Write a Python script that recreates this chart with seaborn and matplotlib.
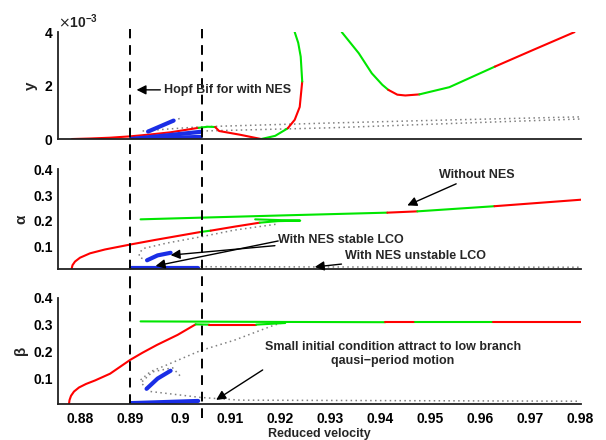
import matplotlib
matplotlib.use("Agg")
import matplotlib.pyplot as plt
import seaborn as sns
from matplotlib.ticker import ScalarFormatter

# ---------------- data ----------------
hopf_x = [0.89, 0.9043]

# top panel (y, in units of 1e-3)
top_red_a_x = [0.8784, 0.882, 0.886, 0.89, 0.894, 0.898, 0.9037]
top_red_a_y = [0.0, 0.02, 0.05, 0.1, 0.17, 0.25, 0.42]
top_green_a_x = [0.9037, 0.9055, 0.907]
top_green_a_y = [0.42, 0.46, 0.45]
top_red_b_x = [0.907, 0.9078, 0.912, 0.9162]
top_red_b_y = [0.45, 0.3, 0.16, 0.0]
top_green_b_x = [0.9162, 0.919, 0.9215]
top_green_b_y = [0.0, 0.12, 0.4]
top_red_c_x = [0.9215, 0.9229, 0.9239, 0.9244]
top_red_c_y = [0.4, 0.72, 1.2, 2.15]
top_green_c_x = [0.9244, 0.9241, 0.9236, 0.9229]
top_green_c_y = [2.15, 3.08, 3.6, 4.0]
top_green_d_x = [0.9323, 0.9357, 0.9383, 0.9404, 0.9416]
top_green_d_y = [4.0, 3.21, 2.46, 2.03, 1.84]
top_red_d_x = [0.9416, 0.9434, 0.945, 0.9478]
top_red_d_y = [1.84, 1.66, 1.63, 1.67]
top_green_e_x = [0.9478, 0.9538, 0.9629]
top_green_e_y = [1.67, 1.94, 2.71]
top_red_e_x = [0.9629, 0.9705, 0.9788]
top_red_e_y = [2.71, 3.33, 4.0]
top_blue_low_x = [0.8902, 0.9041]
top_blue_low_y = [0.0, 0.27]
top_blue_low2_y = [0.0, 0.08]
top_blue_up_x = [0.8936, 0.8987]
top_blue_up_y = [0.28, 0.69]
top_dot_a_x = [0.8987, 0.9001]
top_dot_a_y = [0.69, 0.78]
top_dot_b_x = [0.8925, 0.898, 0.9043, 0.93, 0.955, 0.98]
top_dot_b_y = [0.3, 0.38, 0.46, 0.6, 0.72, 0.83]
top_dot_c_x = [0.9043, 0.93, 0.96, 0.98]
top_dot_c_y = [0.3, 0.42, 0.62, 0.75]

# middle panel (alpha)
mid_red_a_x = [0.8783, 0.8785, 0.879, 0.88, 0.882, 0.885, 0.89, 0.895, 0.9, 0.9041]
mid_red_a_y = [0.012, 0.028, 0.042, 0.057, 0.074, 0.089, 0.108, 0.126, 0.143, 0.157]
mid_green_a_x = [0.9041, 0.9061]
mid_green_a_y = [0.157, 0.162]
mid_red_b_x = [0.9061, 0.911, 0.9159]
mid_red_b_y = [0.162, 0.178, 0.193]
mid_green_b_x = [0.9159, 0.9195, 0.924, 0.92, 0.915]
mid_green_b_y = [0.193, 0.199, 0.201, 0.203, 0.206]
mid_green_c_x = [0.8921, 0.905, 0.92, 0.9414]
mid_green_c_y = [0.206, 0.213, 0.221, 0.232]
mid_red_c_x = [0.9414, 0.9474]
mid_red_c_y = [0.232, 0.237]
mid_green_d_x = [0.9474, 0.9628]
mid_green_d_y = [0.237, 0.257]
mid_red_d_x = [0.9628, 0.9806]
mid_red_d_y = [0.257, 0.283]
mid_blue_up_x = [0.8934, 0.8955, 0.8981]
mid_blue_up_y = [0.047, 0.066, 0.076]
mid_blue_low_x = [0.8902, 0.9036]
mid_blue_low_y = [0.016, 0.016]
mid_dot_a_x = [0.8934, 0.8919, 0.8918, 0.8927, 0.8974, 0.9041, 0.9108, 0.9192]
mid_dot_a_y = [0.047, 0.058, 0.075, 0.093, 0.114, 0.138, 0.164, 0.187]
mid_dot_b_x = [0.9041, 0.93, 0.98]
mid_dot_b_y = [0.022, 0.021, 0.02]

# bottom panel (beta)
bot_red_a_x = [0.8778, 0.8779, 0.8782, 0.8788, 0.8798, 0.8812, 0.883, 0.886, 0.89,
               0.8925, 0.8954, 0.8995, 0.9031]
bot_red_a_y = [0.006, 0.02, 0.036, 0.052, 0.067, 0.08, 0.093, 0.118, 0.169,
               0.196, 0.225, 0.262, 0.301]
bot_green_a_x = [0.9031, 0.9058]
bot_green_a_y = [0.301, 0.300]
bot_red_b_x = [0.9058, 0.9152]
bot_red_b_y = [0.300, 0.300]
bot_green_b_x = [0.9152, 0.921]
bot_green_b_y = [0.300, 0.306]
bot_green_c_x = [0.8921, 0.92, 0.941]
bot_green_c_y = [0.312, 0.310, 0.309]
bot_red_c_x = [0.941, 0.947]
bot_red_c_y = [0.309, 0.309]
bot_green_d_x = [0.947, 0.9625]
bot_green_d_y = [0.309, 0.309]
bot_red_d_x = [0.9625, 0.9806]
bot_red_d_y = [0.309, 0.309]
bot_blue_up_x = [0.8933, 0.8955, 0.8981]
bot_blue_up_y = [0.062, 0.1, 0.129]
bot_blue_low_x = [0.8902, 0.897, 0.9036]
bot_blue_low_y = [0.009, 0.013, 0.017]
bot_dot_a_x = [0.8921, 0.8941, 0.8974, 0.9041, 0.9108, 0.9189, 0.9202]
bot_dot_a_y = [0.095, 0.126, 0.151, 0.204, 0.242, 0.299, 0.305]
bot_dot_b_x = [0.8933, 0.8922, 0.8945, 0.8985, 0.9]
bot_dot_b_y = [0.062, 0.085, 0.125, 0.14, 0.11]
bot_dot_c_x = [0.8941, 0.9041, 0.912, 0.98]
bot_dot_c_y = [0.052, 0.03, 0.02, 0.016]

RED = "#ff0000"
GREEN = "#00e600"
BLUE = "#1a2ee6"
GREY = "#808080"

sns.set_style("white")
plt.rcParams["font.family"] = ["Liberation Sans", "DejaVu Sans"]


def draw(ax, x, y, color, lw=1.5, ls="-", scale=1.0):
    sns.lineplot(x=x, y=[v * scale for v in y], ax=ax, color=color, lw=lw,
                 linestyle=ls, sort=False, estimator=None)


fig = plt.figure(figsize=(6.06, 4.40), dpi=100)
ax_top = fig.add_axes([0.0957, 0.684, 0.863, 0.243])
ax_mid = fig.add_axes([0.0957, 0.388, 0.863, 0.227])
ax_bot = fig.add_axes([0.0957, 0.082, 0.863, 0.2415])

dots = (0, (1, 2.2))
s = 1e-3

# top panel
for x, y in [(top_dot_a_x, top_dot_a_y), (top_dot_b_x, top_dot_b_y), (top_dot_c_x, top_dot_c_y)]:
    draw(ax_top, x, y, GREY, lw=1.1, ls=dots, scale=s)
for x, y, c in [(top_red_a_x, top_red_a_y, RED), (top_green_a_x, top_green_a_y, GREEN),
                (top_red_b_x, top_red_b_y, RED), (top_green_b_x, top_green_b_y, GREEN),
                (top_red_c_x, top_red_c_y, RED), (top_green_c_x, top_green_c_y, GREEN),
                (top_green_d_x, top_green_d_y, GREEN), (top_red_d_x, top_red_d_y, RED),
                (top_green_e_x, top_green_e_y, GREEN), (top_red_e_x, top_red_e_y, RED)]:
    draw(ax_top, x, y, c, scale=s)
draw(ax_top, top_blue_low_x, top_blue_low_y, BLUE, lw=3, scale=s)
draw(ax_top, top_blue_low_x, top_blue_low2_y, BLUE, lw=3, scale=s)
draw(ax_top, top_blue_up_x, top_blue_up_y, BLUE, lw=3, scale=s)

# middle panel
for x, y in [(mid_dot_a_x, mid_dot_a_y), (mid_dot_b_x, mid_dot_b_y)]:
    draw(ax_mid, x, y, GREY, lw=1.1, ls=dots)
for x, y, c in [(mid_red_a_x, mid_red_a_y, RED), (mid_green_a_x, mid_green_a_y, GREEN),
                (mid_red_b_x, mid_red_b_y, RED), (mid_green_b_x, mid_green_b_y, GREEN),
                (mid_green_c_x, mid_green_c_y, GREEN), (mid_red_c_x, mid_red_c_y, RED),
                (mid_green_d_x, mid_green_d_y, GREEN), (mid_red_d_x, mid_red_d_y, RED)]:
    draw(ax_mid, x, y, c)
draw(ax_mid, mid_blue_up_x, mid_blue_up_y, BLUE, lw=3)
draw(ax_mid, mid_blue_low_x, mid_blue_low_y, BLUE, lw=3)

# bottom panel
for x, y in [(bot_dot_a_x, bot_dot_a_y), (bot_dot_b_x, bot_dot_b_y), (bot_dot_c_x, bot_dot_c_y)]:
    draw(ax_bot, x, y, GREY, lw=1.1, ls=dots)
for x, y, c in [(bot_red_a_x, bot_red_a_y, RED), (bot_green_a_x, bot_green_a_y, GREEN),
                (bot_red_b_x, bot_red_b_y, RED), (bot_green_b_x, bot_green_b_y, GREEN),
                (bot_green_c_x, bot_green_c_y, GREEN), (bot_red_c_x, bot_red_c_y, RED),
                (bot_green_d_x, bot_green_d_y, GREEN), (bot_red_d_x, bot_red_d_y, RED)]:
    draw(ax_bot, x, y, c)
draw(ax_bot, bot_blue_up_x, bot_blue_up_y, BLUE, lw=3)
draw(ax_bot, bot_blue_low_x, bot_blue_low_y, BLUE, lw=3)

# dashed Hopf lines running through all panels
dash = (0, (5, 3.5))
spans = {ax_top: [(-0.14, 1.03), (-0.14, 1.03)],
         ax_mid: [(-0.17, 1.15), (-0.17, 1.15)],
         ax_bot: [(0.0, 1.11), (-0.13, 1.11)]}
for ax, sp in spans.items():
    for xv, (lo, hi) in zip(hopf_x, sp):
        ax.axvline(xv, ymin=lo, ymax=hi, color="k", lw=1.4, linestyle=dash, clip_on=False)

# axes styling
limits = [(ax_top, (0, 0.004), [0, 0.002, 0.004]),
          (ax_mid, (0.012, 0.4), [0.1, 0.2, 0.3, 0.4]),
          (ax_bot, (0.006, 0.4), [0.1, 0.2, 0.3, 0.4])]
for ax, yl, yt in limits:
    ax.set_xlim(0.8756, 0.9801)
    ax.set_ylim(*yl)
    ax.set_yticks(yt)
    for side in ["top", "right"]:
        ax.spines[side].set_visible(False)
    for side in ["left", "bottom"]:
        ax.spines[side].set_color("#222222")
        ax.spines[side].set_linewidth(1.3)
    ax.tick_params(direction="in", length=4, width=1, colors="#222222", labelsize=10)
    for lab in ax.get_yticklabels() + ax.get_xticklabels():
        lab.set_fontweight("bold")
        lab.set_color("black")
    ax.set_xlabel("")

for ax in (ax_top, ax_mid):
    ax.set_xticks([])

ax_bot.set_xticks([0.88, 0.89, 0.90, 0.91, 0.92, 0.93, 0.94, 0.95, 0.96, 0.97, 0.98])
ax_bot.set_xticklabels(["0.88", "0.89", "0.9", "0.91", "0.92", "0.93", "0.94",
                        "0.95", "0.96", "0.97", "0.98"], fontweight="bold")
ax_bot.tick_params(axis="x", pad=6)

fmt = ScalarFormatter(useMathText=True)
fmt.set_powerlimits((-3, -3))
ax_top.yaxis.set_major_formatter(fmt)
ax_top.yaxis.get_offset_text().set_fontsize(10)
ax_top.yaxis.get_offset_text().set_fontweight("bold")

ax_top.set_ylabel("y", fontsize=11, fontweight="bold")
ax_mid.set_ylabel("α", fontsize=11, fontweight="bold")
ax_bot.set_ylabel("β", fontsize=11, fontweight="bold")
ax_bot.set_xlabel("Reduced velocity", fontsize=9, fontweight="bold", labelpad=1)

arrow = dict(arrowstyle="-|>", color="k", lw=1.0, mutation_scale=14, shrinkA=0, shrinkB=0)

ax_top.annotate("Hopf Bif for with NES", xy=(0.8913, 0.00184), xytext=(0.8967, 0.00184),
                ha="left", va="center", fontsize=9, fontweight="bold", arrowprops=arrow)

ax_mid.annotate("Without NES", xy=(0.9454, 0.26), xytext=(0.9518, 0.38),
                ha="left", va="center", fontsize=9, fontweight="bold", arrowprops=arrow)
ax_mid.annotate("With NES stable LCO", xy=(0.8981, 0.067), xytext=(0.9196, 0.127),
                ha="left", va="center", fontsize=9, fontweight="bold", arrowprops=arrow)
ax_mid.annotate("", xy=(0.8951, 0.025), xytext=(0.9196, 0.122), arrowprops=arrow)
ax_mid.annotate("With NES unstable LCO", xy=(0.9269, 0.021), xytext=(0.9329, 0.063),
                ha="left", va="center", fontsize=9, fontweight="bold", arrowprops=arrow)

ax_bot.text(0.9425, 0.19, "Small initial condition attract to low branch\nqausi\u2212period motion",
            ha="center", va="center", fontsize=9, fontweight="bold", linespacing=1.25)
ax_bot.annotate("", xy=(0.9072, 0.021), xytext=(0.9165, 0.132), arrowprops=arrow)

fig.savefig("out.png", dpi=100)
